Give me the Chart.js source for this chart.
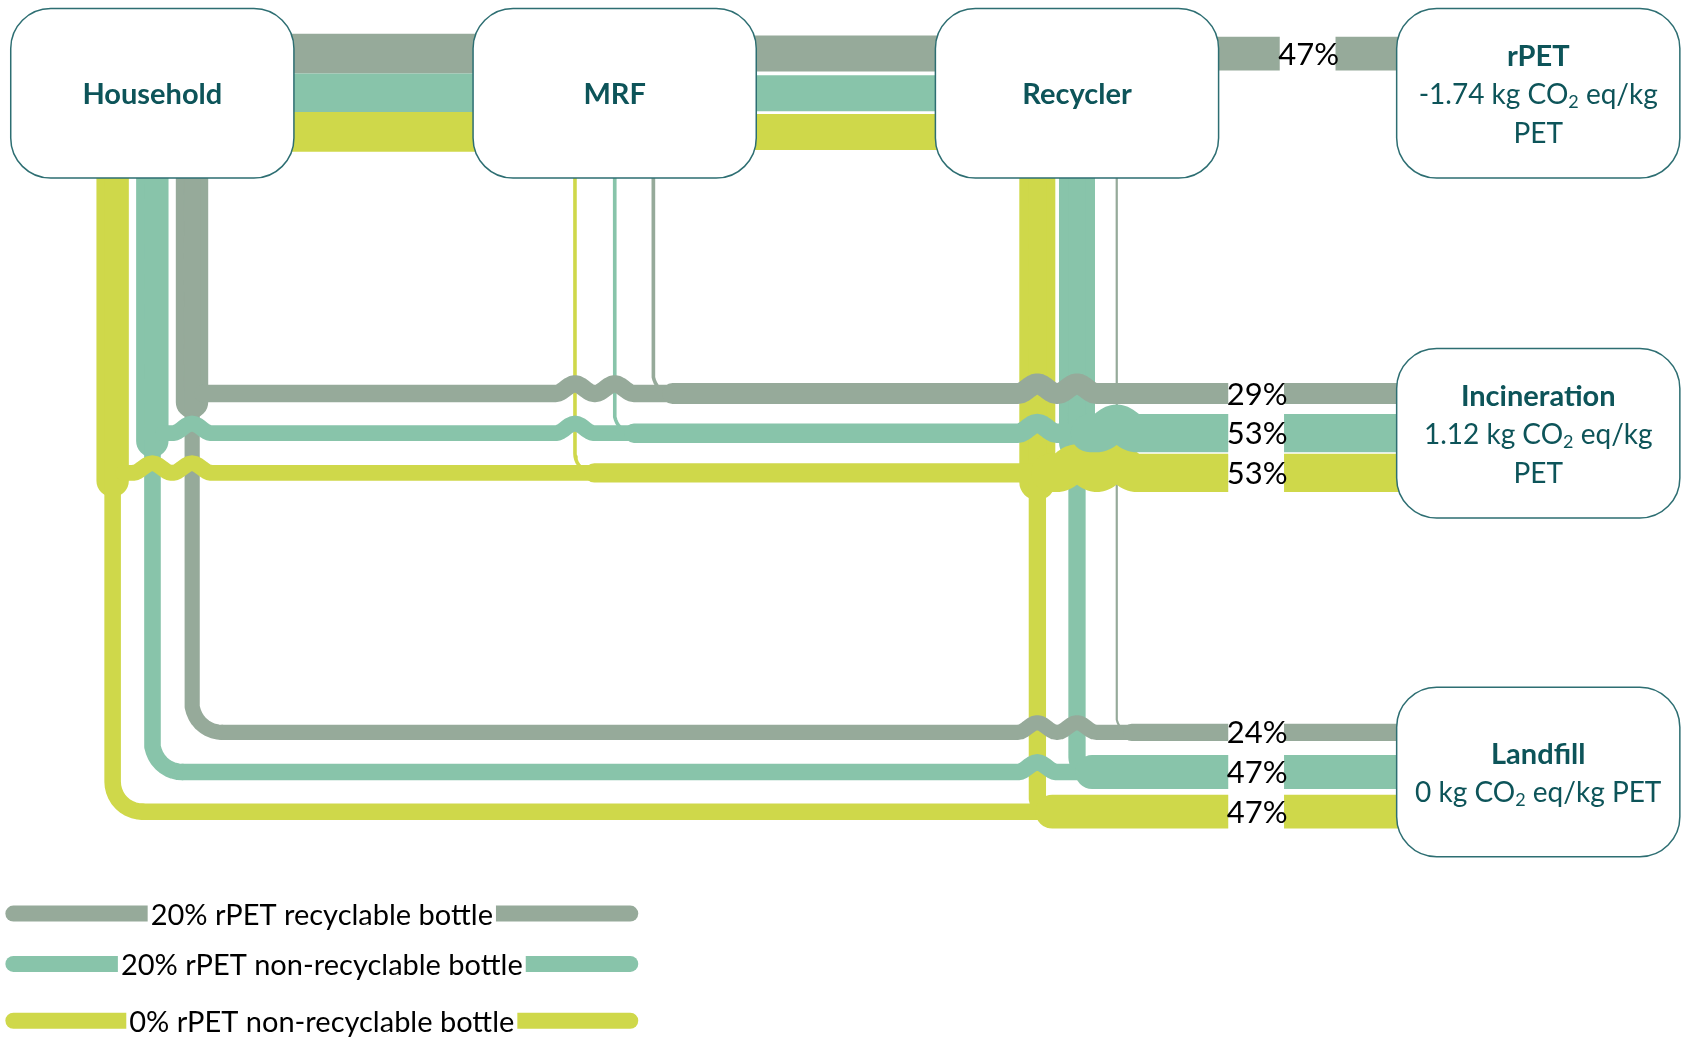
<!DOCTYPE html>
<html>
<head>
<meta charset="utf-8">
<title>PET bottle flows</title>
<script src="https://cdn.jsdelivr.net/npm/chart.js@4.4.1/dist/chart.umd.min.js"></script>
<style>
	html, body { margin: 0; padding: 0; background: #fff; overflow: hidden; }
	#flows { display: block; }
</style>
</head>
<body>
<canvas id="flows" width="1682" height="1039" style="width:1682px;height:1039px"></canvas>
<script>
(function () {
	'use strict';

	// Bottle types (one coloured stream each)
	const seriesNames = [
		'20% rPET recyclable bottle',
		'20% rPET non-recyclable bottle',
		'0% rPET non-recyclable bottle'
	];
	const stageNames = ['Household', 'MRF', 'Recycler'];
	const endNames   = ['rPET', 'Incineration', 'Landfill'];
	const endFactors = [-1.74, 1.12, 0]; // kg CO2 eq/kg PET

	// Share of each bottle type (%) carried by every link
	const householdToMrf          = [55, 55, 55];
	const householdToIncineration = [24, 22, 22];
	const householdToLandfill     = [21, 23, 23];
	const mrfToRecycler           = [50, 50, 50];
	const mrfToIncineration       = [5, 5, 5];
	const mrfToLandfill           = [0, 0, 0];
	const recyclerToRpet          = [47, 0, 0];
	const recyclerToIncineration  = [0, 26, 26];
	const recyclerToLandfill      = [3, 24, 24];

	const colors     = ['#96aa9a', '#88c4aa', '#cfd84a'];
	const boxStroke  = '#2d6e72';
	const titleColor = '#0d5459';
	const FONT       = "'Lato', 'Open Sans', sans-serif";

	// Layout, in axis units (axis spans 0..W by 0..H)
	const W = 1568, H = 969;
	const UNIT = 1682 / W;          // canvas px per unit
	const PX_PER_PCT = 0.72;        // stream width, canvas px per %
	const BOX_W = 264, BOX_H = 158, BOX_R = 40;
	const STAGE_TOP = 8;
	const stageLeft = [10, 441, 872];
	const endLeft   = 1302;
	const endTop    = [8, 325, 641];
	const topBandY  = [50, 87, 123];
	const incLaneY  = [367, 404, 441];
	const landLaneY = [683, 720, 757];
	const downLaneX = [[179, 142, 105], [609, 573, 536], [1041, 1004, 967]];
	const incRadius  = [10, 18, 12];
	const landRadius = [28, 18, 14];
	const pctGap     = [[1193, 1245], [1145, 1197], [1145, 1197]];
	const legendY    = [852, 899, 952];
	const legendX    = [5, 595];
	const HOP_H = 9, HOP_W = 18;

	const toInc  = [householdToIncineration, mrfToIncineration, recyclerToIncineration];
	const toLand = [householdToLandfill, mrfToLandfill, recyclerToLandfill];

	const stageMid = s => stageLeft[s] + BOX_W / 2;
	const endMid   = endLeft + BOX_W / 2;
	const midY     = STAGE_TOP + BOX_H / 2;

	const datasets  = [];
	const verticals = [];

	// later datasets sit on top
	function addLine(points, width, color, cap) {
		datasets.push({
			data: points,
			showLine: true,
			pointRadius: 0,
			pointHoverRadius: 0,
			borderWidth: width,
			borderColor: color,
			backgroundColor: color,
			borderCapStyle: cap || 'butt',
			borderJoinStyle: 'round',
			tension: 0,
			fill: false,
			order: -datasets.length
		});
	}

	// straight down, then a rounded turn to the right
	function downAndRight(x, y0, y1, r) {
		const pts = [{ x: x, y: y0 }, { x: x, y: y1 - r }];
		for (let a = 1; a <= 10; a++) {
			const t = Math.PI - (a / 10) * Math.PI / 2;
			pts.push({ x: x + r + r * Math.cos(t), y: y1 - r + r * Math.sin(t) });
		}
		return pts;
	}

	// horizontal run with a small bridge over every crossing
	function across(x0, x1, y, hops) {
		const pts = [{ x: x0, y: y }];
		hops.forEach(cx => {
			for (let a = 0; a <= 14; a++) {
				const t = a / 14;
				pts.push({
					x: cx - HOP_W + 2 * HOP_W * t,
					y: y - HOP_H * (1 - Math.cos(2 * Math.PI * t)) / 2
				});
			}
		});
		pts.push({ x: x1, y: y });
		return pts;
	}

	function hopsFor(x0, x1, y, series) {
		const xs = [];
		verticals.forEach(v => {
			if (v.series === series) return;
			if (v.x <= x0 + 2 || v.x >= x1) return;
			if (v.y0 < y - 2 && v.y1 > y + 2 && xs.indexOf(v.x) < 0) xs.push(v.x);
		});
		return xs.sort((a, b) => a - b);
	}

	// downward streams: recycler underneath, household on top
	[2, 1, 0].forEach(s => {
		[0, 1, 2].forEach(i => {
			const x  = downLaneX[s][i];
			const vi = toInc[s][i];
			const vl = toLand[s][i];
			if (vi > 0 && vl > 0) {
				const bottom = incLaneY[i] + (vi * PX_PER_PCT / 2) / UNIT;
				addLine([{ x: x, y: midY }, { x: x, y: bottom }], (vi + vl) * PX_PER_PCT, colors[i]);
				verticals.push({ x: x, y0: midY, y1: incLaneY[i], series: i });
			}
			if (vi > 0) {
				addLine(downAndRight(x, midY, incLaneY[i], incRadius[s]), vi * PX_PER_PCT, colors[i], 'round');
				verticals.push({ x: x, y0: midY, y1: incLaneY[i], series: i });
			}
			if (vl > 0) {
				addLine(downAndRight(x, midY, landLaneY[i], landRadius[s]), vl * PX_PER_PCT, colors[i], 'round');
				verticals.push({ x: x, y0: midY, y1: landLaneY[i], series: i });
			}
		});
	});

	// horizontal lanes into incineration and landfill, widening at each merge
	[[incLaneY, toInc, incRadius], [landLaneY, toLand, landRadius]].forEach(lane => {
		const laneY = lane[0], flows = lane[1], radii = lane[2];
		[2, 1, 0].forEach(i => {
			let total = 0;
			[0, 1, 2].forEach(s => {
				const v = flows[s][i];
				if (!v) return;
				total += v;
				const x0 = downLaneX[s][i] + radii[s];
				addLine(across(x0, endMid, laneY[i], hopsFor(x0, endMid, laneY[i], i)),
					total * PX_PER_PCT, colors[i], 'round');
			});
		});
	});

	// top row: household -> MRF -> recycler -> rPET
	[0, 1, 2].forEach(i => {
		const y = topBandY[i];
		addLine([{ x: stageMid(0), y: y }, { x: stageMid(1), y: y }], householdToMrf[i] * PX_PER_PCT, colors[i]);
		addLine([{ x: stageMid(1), y: y }, { x: stageMid(2), y: y }], mrfToRecycler[i] * PX_PER_PCT, colors[i]);
		if (recyclerToRpet[i] > 0) {
			addLine([{ x: stageMid(2), y: y }, { x: endMid, y: y }], recyclerToRpet[i] * PX_PER_PCT, colors[i]);
		}
	});

	function sumOver(flows, i) {
		return flows.reduce((acc, f) => acc + f[i], 0);
	}

	function roundBox(ctx, x, y, w, h, r) {
		ctx.beginPath();
		ctx.moveTo(x + r, y);
		ctx.lineTo(x + w - r, y);
		ctx.arcTo(x + w, y, x + w, y + r, r);
		ctx.lineTo(x + w, y + h - r);
		ctx.arcTo(x + w, y + h, x + w - r, y + h, r);
		ctx.lineTo(x + r, y + h);
		ctx.arcTo(x, y + h, x, y + h - r, r);
		ctx.lineTo(x, y + r);
		ctx.arcTo(x, y, x + r, y, r);
		ctx.closePath();
	}

	// text with a subscript 2 in "CO2"
	function noteParts(line) {
		const out = [];
		const bits = line.split('CO2');
		bits.forEach((b, j) => {
			out.push({ t: b + (j < bits.length - 1 ? 'CO' : ''), sub: false });
			if (j < bits.length - 1) out.push({ t: '2', sub: true });
		});
		return out;
	}

	function drawNote(ctx, line, cx, cy, size) {
		const parts = noteParts(line);
		let total = 0;
		parts.forEach(p => {
			ctx.font = (p.sub ? Math.round(size * 0.64) : size) + 'px ' + FONT;
			p.w = ctx.measureText(p.t).width;
			total += p.w;
		});
		let x = cx - total / 2;
		parts.forEach(p => {
			ctx.font = (p.sub ? Math.round(size * 0.64) : size) + 'px ' + FONT;
			ctx.fillText(p.t, x, cy + (p.sub ? size * 0.26 : 0));
			x += p.w;
		});
	}

	function wrapNote(ctx, text, maxW, size) {
		ctx.font = size + 'px ' + FONT;
		const words = text.split(' ');
		const lines = [];
		let cur = '';
		words.forEach(w => {
			const test = cur ? cur + ' ' + w : w;
			if (cur && ctx.measureText(test).width > maxW) {
				lines.push(cur);
				cur = w;
			} else {
				cur = test;
			}
		});
		if (cur) lines.push(cur);
		return lines;
	}

	const nodeArt = {
		id: 'nodeArt',
		afterDatasetsDraw(chart) {
			const ctx = chart.ctx;
			const sx = chart.scales.x, sy = chart.scales.y;
			const px = v => sx.getPixelForValue(v);
			const py = v => sy.getPixelForValue(v);

			ctx.save();
			ctx.textAlign = 'left';
			ctx.textBaseline = 'middle';

			// percentage labels cut into the streams
			function pctLabel(value, gap, yUnit, width) {
				const x0 = px(gap[0]), x1 = px(gap[1]);
				ctx.fillStyle = '#fff';
				ctx.fillRect(x0, py(yUnit) - width / 2 - 2, x1 - x0, width + 4);
				ctx.fillStyle = '#000';
				ctx.font = '31px ' + FONT;
				ctx.textAlign = 'center';
				ctx.fillText(value + '%', (x0 + x1) / 2 + 1, py(yUnit) + 1);
			}
			[0, 1, 2].forEach(i => {
				if (recyclerToRpet[i] > 0) {
					pctLabel(recyclerToRpet[i], pctGap[0], topBandY[i], recyclerToRpet[i] * PX_PER_PCT);
				}
				const inc = sumOver(toInc, i);
				if (inc > 0) pctLabel(inc, pctGap[1], incLaneY[i], inc * PX_PER_PCT);
				const land = sumOver(toLand, i);
				if (land > 0) pctLabel(land, pctGap[2], landLaneY[i], land * PX_PER_PCT);
			});

			// node boxes
			const bw = BOX_W * UNIT, bh = BOX_H * UNIT, br = BOX_R;
			function box(left, top) {
				roundBox(ctx, px(left), py(top), bw, bh, br);
				ctx.fillStyle = '#fff';
				ctx.fill();
				ctx.lineWidth = 1.5;
				ctx.strokeStyle = boxStroke;
				ctx.stroke();
			}

			ctx.textAlign = 'center';
			stageNames.forEach((name, s) => {
				box(stageLeft[s], STAGE_TOP);
				ctx.fillStyle = titleColor;
				ctx.font = 'bold 29px ' + FONT;
				ctx.fillText(name, px(stageMid(s)), py(midY) + 1);
			});

			const lineH = 36 * UNIT;
			endNames.forEach((name, e) => {
				box(endLeft, endTop[e]);
				const cx = px(endMid);
				const cy = py(endTop[e] + BOX_H / 2);
				const note = endFactors[e] + ' kg CO2 eq/kg PET';
				const lines = wrapNote(ctx, note, bw - 20, 28);
				const n = lines.length + 1;
				let y = cy - (n - 1) * lineH / 2 + 2;
				ctx.fillStyle = titleColor;
				ctx.textAlign = 'center';
				ctx.font = 'bold 29px ' + FONT;
				ctx.fillText(name, cx, y);
				ctx.textAlign = 'left';
				lines.forEach(l => {
					y += lineH;
					drawNote(ctx, l, cx, y, 28);
				});
				ctx.textAlign = 'center';
			});

			// legend: stream colour with the bottle name laid over it
			seriesNames.forEach((name, i) => {
				const y = py(legendY[i]);
				ctx.beginPath();
				ctx.moveTo(px(legendX[0]) + 8, y);
				ctx.lineTo(px(legendX[1]) - 8, y);
				ctx.lineWidth = 16;
				ctx.lineCap = 'round';
				ctx.strokeStyle = colors[i];
				ctx.stroke();
				ctx.font = '29px ' + FONT;
				const tw = ctx.measureText(name).width;
				const cx = px((legendX[0] + legendX[1]) / 2);
				ctx.fillStyle = '#fff';
				ctx.fillRect(cx - tw / 2 - 3, y - 12, tw + 6, 24);
				ctx.fillStyle = '#000';
				ctx.textAlign = 'center';
				ctx.fillText(name, cx, y + 2);
			});

			ctx.restore();
		}
	};

	new Chart(document.getElementById('flows'), {
		type: 'scatter',
		data: { datasets: datasets },
		options: {
			responsive: false,
			animation: false,
			events: [],
			layout: { padding: 0 },
			plugins: {
				legend: { display: false },
				tooltip: { enabled: false }
			},
			scales: {
				x: { type: 'linear', min: 0, max: W, display: false },
				y: { type: 'linear', min: 0, max: H, reverse: true, display: false }
			}
		},
		plugins: [nodeArt]
	});
})();
</script>
</body>
</html>
